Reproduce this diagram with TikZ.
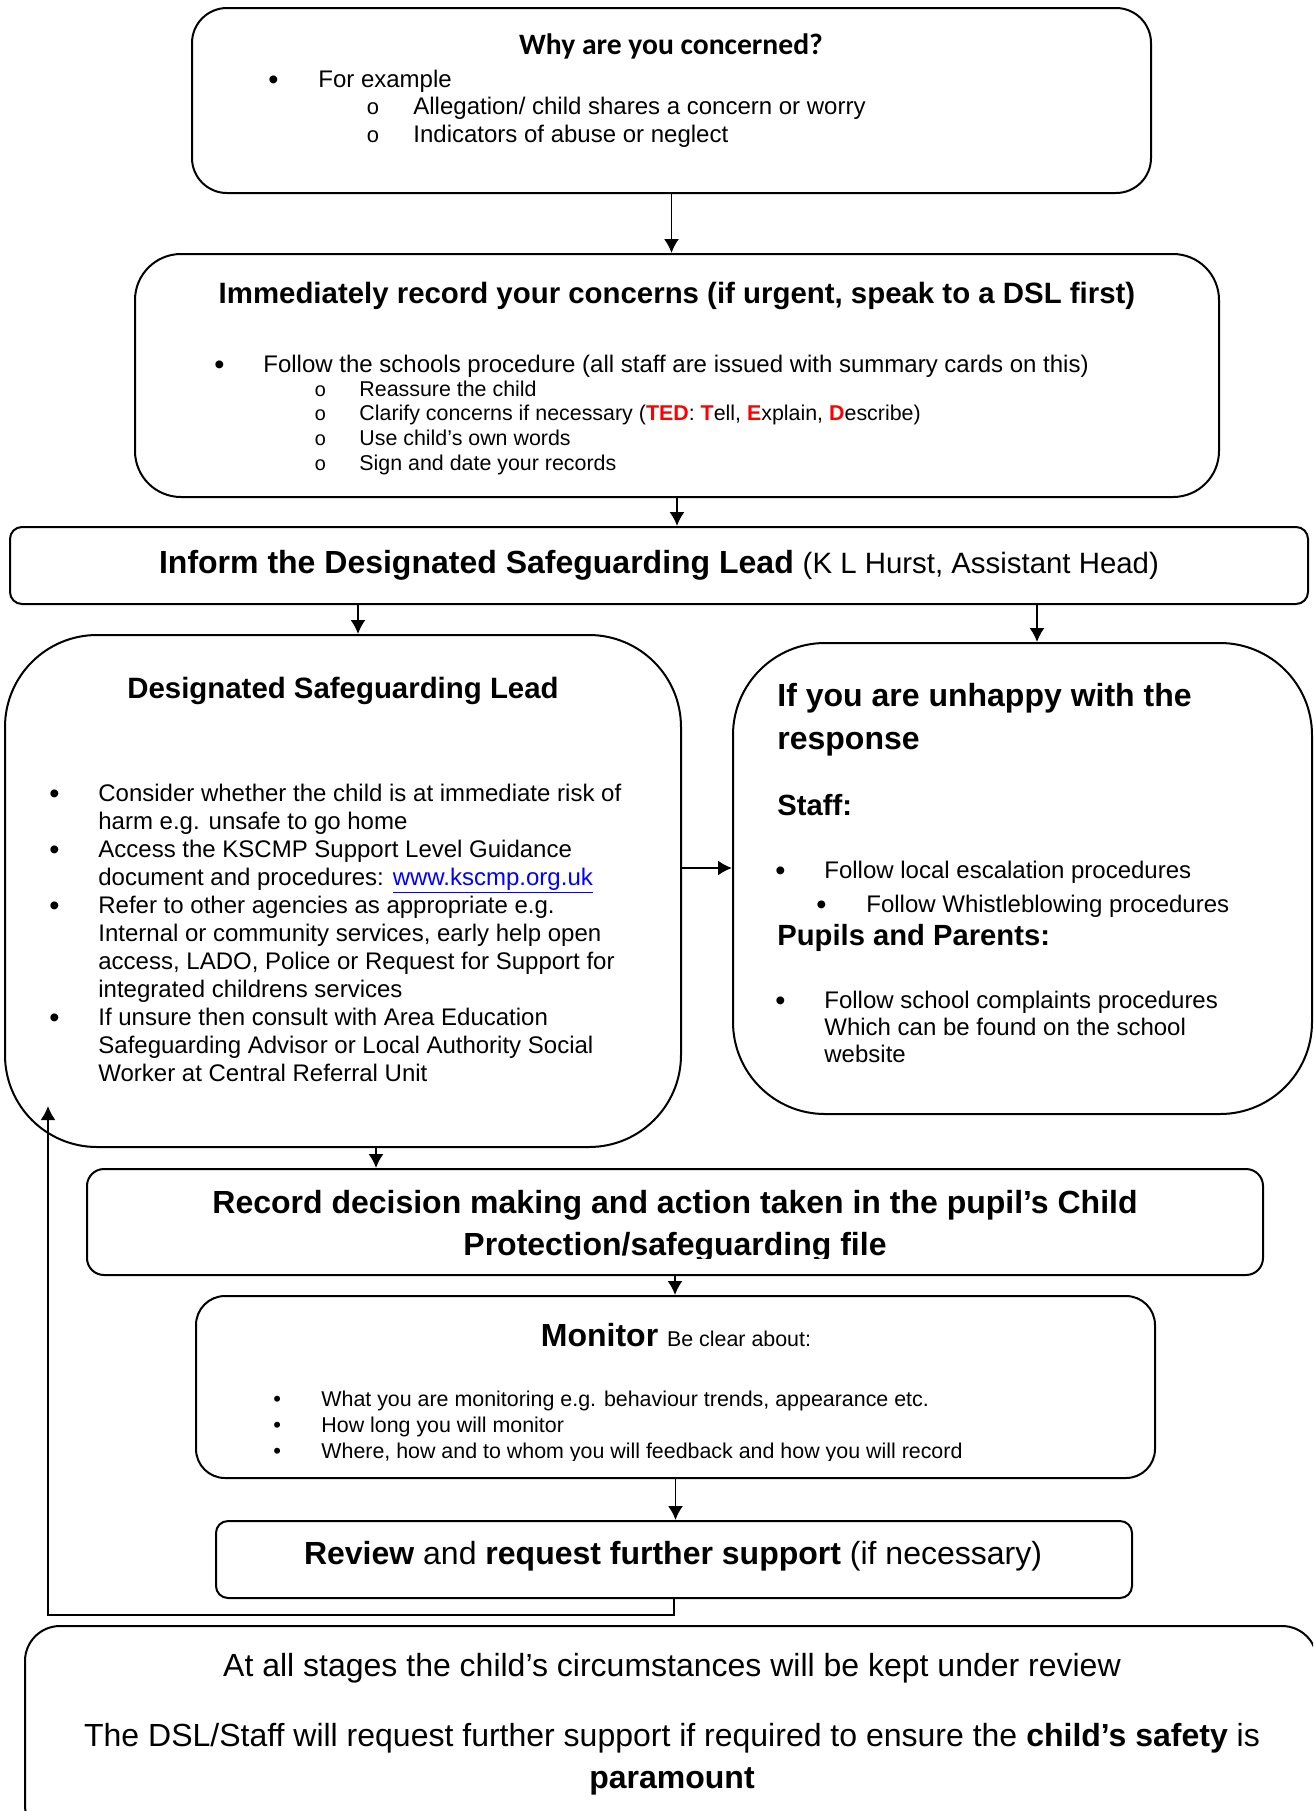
\documentclass[tikz,border=0pt]{standalone}
\usepackage{fontspec}
\setmainfont{Liberation Sans}
\setmonofont{Liberation Mono}
\newfontfamily\calibri{Carlito}
\usepackage{tikz}
\usetikzlibrary{arrows.meta}
\usetikzlibrary{positioning}
\definecolor{tedred}{RGB}{255,0,0}
\definecolor{linkblue}{RGB}{0,0,255}
\newcommand{\px}{0.5pt}
\newcommand{\fsz}[2]{\fontsize{#1pt}{#2pt}\selectfont}
\tikzstyle{every node}+=[inner sep=0pt]
\tikzstyle{block} = [rectangle, draw, line width=1pt]
\tikzstyle{line} = [draw, line width=0.9pt, -{Latex[length=7pt,width=7.5pt]}]
\tikzstyle{txt} = [anchor=base west, align=left, font=\fsz{12}{14}]
\tikzstyle{dot} = [anchor=base west, font=\fsz{14.5}{14}, yshift=-1.2pt]
\tikzstyle{head} = [anchor=base, align=center]

\begin{document}
\begin{tikzpicture}[x=\px, y=-\px]
            % Page
            \path [use as bounding box, clip] (0,0) rectangle (1313,1811);
            % Place boxes
            \node [block, rounded corners=35*\px, minimum width=959*\px, minimum height=185*\px] (why) at (671.5,100.5) {};
            \node [block, rounded corners=46*\px, minimum width=1084*\px, minimum height=243*\px] (rec) at (677,375.5) {};
            \node [block, rounded corners=12*\px, minimum width=1298*\px, minimum height=77*\px] (inform) at (659,565.5) {};
            \node [block, rounded corners=92*\px, minimum width=676*\px, minimum height=512*\px] (dsl) at (343,891) {};
            \node [block, rounded corners=92*\px, minimum width=579*\px, minimum height=471*\px] (unhappy) at (1022.5,878.5) {};
            \node [block, rounded corners=17*\px, minimum width=1176*\px, minimum height=106*\px] (decision) at (675,1222) {};
            \node [block, rounded corners=29*\px, minimum width=959*\px, minimum height=182*\px] (monitor) at (675.5,1387) {};
            \node [block, rounded corners=12*\px, minimum width=916*\px, minimum height=77*\px] (review) at (674,1559.5) {};
            \node [block, rounded corners=35*\px, minimum width=1292*\px, minimum height=214*\px] (final) at (671,1733) {};
            % Why box (base of a text block = its last line)
            \node [head, font=\calibri\bfseries\fsz{14.8}{17}] (whyt) at (671,54) {Why are you concerned?};
            \node [dot] (whyb) at (268,87) {•};
            \node [txt] (whyi) at (318,87) {For example};
            \node [txt, font=\ttfamily\fsz{11}{14}] (whyo) at (366,142) {o\\o};
            \node [txt] (whys) at (413,142) {Allegation/ child shares a concern or worry\\Indicators of abuse or neglect};
            % Record box
            \node [head, font=\bfseries\fsz{14.7}{17}] (rect) at (677,303) {Immediately record your concerns (if urgent, speak to a DSL first)};
            \node [dot] (recb) at (214,372) {•};
            \node [txt] (reci) at (263,372) {Follow the schools procedure (all staff are issued with summary cards on this)};
            \node [txt, font=\ttfamily\fsz{10}{12.3}] (reco) at (314,470) {o\\o\\o\\o};
            \node [txt, font=\fsz{10.7}{12.3}] (recs) at (359,470) {Reassure the child\\Clarify concerns if necessary (\textcolor{tedred}{\bfseries TED}: \textcolor{tedred}{\bfseries T}ell, \textcolor{tedred}{\bfseries E}xplain, \textcolor{tedred}{\bfseries D}escribe)\\Use child’s own words\\Sign and date your records};
            % Inform box
            \node [head] (informt) at (659,573) {\bfseries\fsz{16}{19}Inform the Designated Safeguarding Lead \mdseries\fsz{14.7}{17}(K L Hurst, Assistant Head)};
            % DSL box
            \node [head, font=\bfseries\fsz{14.7}{17}] (dslt) at (343,698) {Designated Safeguarding Lead};
            \foreach \y in {801,857,913,1025}
                \node [dot] at (49,\y) {•};
            \node [txt] (dsli) at (98,1081) {Consider whether the child is at immediate risk of\\harm e.g. unsafe to go home\\Access the KSCMP Support Level Guidance\\document and procedures: \textcolor{linkblue}{\underline{www.kscmp.org.uk}}\\Refer to other agencies as appropriate e.g.\\Internal or community services, early help open\\access, LADO, Police or Request for Support for\\integrated childrens services\\If unsure then consult with Area Education\\Safeguarding Advisor or Local Authority Social\\Worker at Central Referral Unit};
            % Unhappy box
            \node [txt, font=\bfseries\fsz{16}{21.5}] (unht) at (777,749) {If you are unhappy with the\\response};
            \node [txt, font=\bfseries\fsz{14.6}{17}] (staff) at (777,815) {Staff:};
            \node [dot] (staffb1) at (775,878) {•};
            \node [txt] (staffi1) at (824,878) {Follow local escalation procedures};
            \node [dot] (staffb2) at (816,912) {•};
            \node [txt] (staffi2) at (866,912) {Follow Whistleblowing procedures};
            \node [txt, font=\bfseries\fsz{14.6}{17}] (pupils) at (777,945) {Pupils and Parents:};
            \node [dot] (pupilsb) at (775,1008) {•};
            \node [txt, font=\fsz{12}{13.5}] (pupilsi) at (824,1062) {Follow school complaints procedures\\Which can be found on the school\\website};
            % Decision box
            \begin{scope}
                \clip (0,0) rectangle (1313,1258);
                \node [head, font=\bfseries\fsz{16}{21}] (dect) at (675,1255) {Record decision making and action taken in the pupil’s Child\\Protection/safeguarding file};
            \end{scope}
            % Monitor box
            \node [head] (mont) at (676,1346) {\bfseries\fsz{16}{19}Monitor \mdseries\fsz{10.7}{13}Be clear about:};
            \foreach \y in {1406,1432,1458}
                \node [txt, font=\fsz{11}{13}] at (273,\y) {•};
            \begin{scope}
                \clip (0,0) rectangle (1313,1460);
                \node [txt, font=\fsz{10.7}{13}] (moni) at (321,1458) {What you are monitoring e.g. behaviour trends, appearance etc.\\How long you will monitor\\Where, how and to whom you will feedback and how you will record};
            \end{scope}
            % Review box
            \node [head, font=\fsz{16}{19}] (revt) at (673,1564) {\bfseries Review \mdseries and \bfseries request further support \mdseries(if necessary)};
            % Final box
            \node [head, font=\fsz{16}{21}] (fin1) at (672,1676) {At all stages the child’s circumstances will be kept under review};
            \node [head, font=\fsz{16}{21}] (fin2) at (672,1788) {The DSL/Staff will request further support if required to ensure the \textbf{child’s safety} is\\\textbf{paramount}};
            % Draw edges
            \coordinate (a3) at (358,0);
            \coordinate (a4) at (1037,0);
            \coordinate (a5) at (0,868);
            \coordinate (a6) at (376,0);
            \coordinate (fb) at (48,1106);
            \path [line] (why.south) -- (why.south |- rec.north);
            \path [line] (rec.south) -- (rec.south |- inform.north);
            \path [line] (inform.south -| a3) -- (dsl.north -| a3);
            \path [line] (inform.south -| a4) -- (unhappy.north -| a4);
            \path [line] (dsl.east |- a5) -- (unhappy.west |- a5);
            \path [line] (dsl.south -| a6) -- (decision.north -| a6);
            \path [line] (decision.south) -- (decision.south |- monitor.north);
            \path [line] (monitor.south) -- (monitor.south |- review.north);
            \path [line] (review.south) -- ++(0,16) -| (fb);
\end{tikzpicture}
\end{document}
